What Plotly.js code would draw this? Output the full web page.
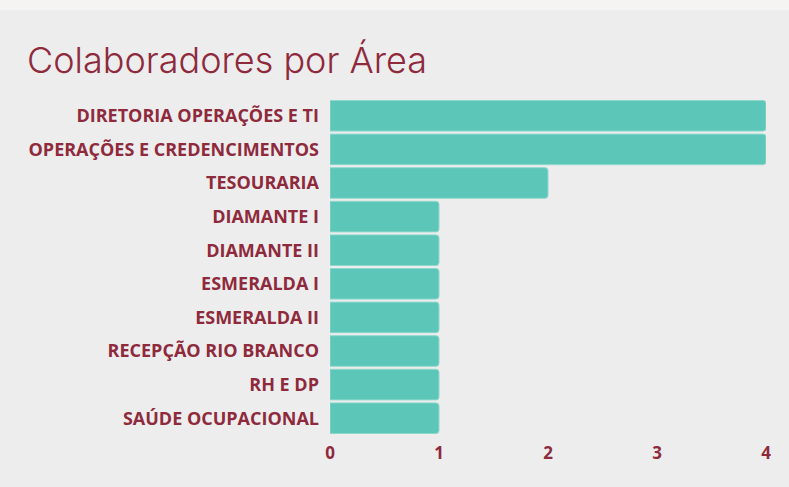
<!DOCTYPE html>
<html>
<head>
<meta charset="utf-8">
<script src="https://cdn.plot.ly/plotly-3.0.1.min.js"></script>
<style>
html, body { margin: 0; padding: 0; background: #f5f4f2; }
#chart { width: 789px; height: 477px; margin-top: 10px; }
</style>
</head>
<body>
<div id="chart"></div>
<script>
const areas = [
  "DIRETORIA OPERAÇÕES E TI",
  "OPERAÇÕES E CREDENCIMENTOS",
  "TESOURARIA",
  "DIAMANTE I",
  "DIAMANTE II",
  "ESMERALDA I",
  "ESMERALDA II",
  "RECEPÇÃO RIO BRANCO",
  "RH E DP",
  "SAÚDE OCUPACIONAL"
];
const colaboradores = [4, 4, 2, 1, 1, 1, 1, 1, 1, 1];
const xTicks = [0, 1, 2, 3, 4];

const textColor = "#8e2a3c";

const trace = {
  type: "bar",
  orientation: "h",
  x: colaboradores,
  y: areas,
  marker: {
    color: "#5cc6b8",
    line: { color: "#8fd8ce", width: 1 },
    cornerradius: 3
  },
  hoverinfo: "x+y"
};

const layout = {
  width: 789,
  height: 477,
  paper_bgcolor: "#ededed",
  plot_bgcolor: "#ededed",
  margin: { l: 330, r: 23, t: 89, b: 52 },
  bargap: 0.09,
  showlegend: false,
  title: {
    text: "Colaboradores por Área",
    x: 27 / 789,
    xanchor: "left",
    xref: "container",
    yref: "container",
    y: 1 - 50 / 477,
    yanchor: "middle",
    font: { family: "Inter, 'Open Sans', sans-serif", size: 36, weight: 300, color: textColor }
  },
  xaxis: {
    range: [0, 4],
    tickvals: xTicks,
    ticktext: xTicks.map(String),
    showgrid: false,
    zeroline: false,
    showline: false,
    ticks: "",
    ticklabelstandoff: 6,
    fixedrange: true,
    tickfont: { family: "'Open Sans', sans-serif", size: 17, weight: 700, color: textColor }
  },
  yaxis: {
    autorange: "reversed",
    showgrid: false,
    zeroline: false,
    showline: false,
    ticks: "",
    ticklabelstandoff: 10,
    fixedrange: true,
    tickfont: { family: "'Open Sans', sans-serif", size: 18, weight: 700, color: textColor }
  }
};

Plotly.newPlot("chart", [trace], layout, { displayModeBar: false, staticPlot: true });
</script>
</body>
</html>
